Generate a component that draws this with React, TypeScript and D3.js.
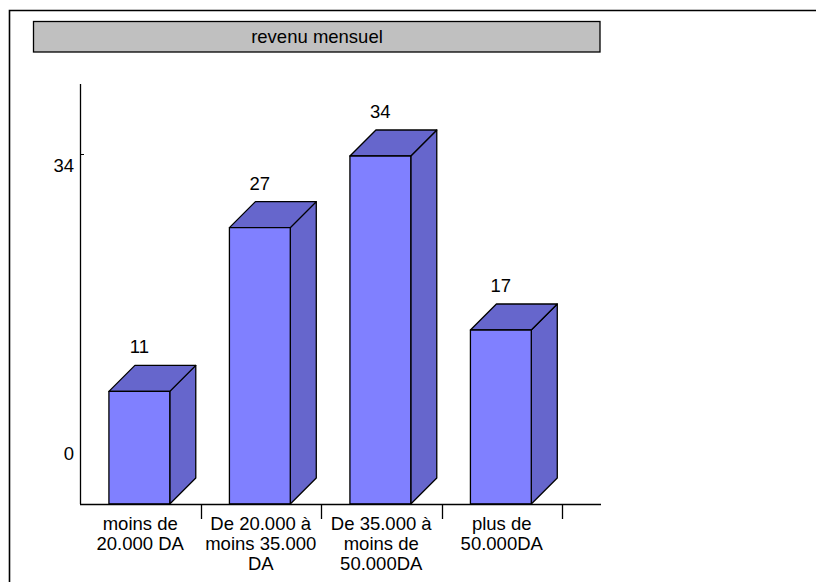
import React from "react";
import * as d3 from "d3";

const title = "revenu mensuel";
const categories = [
  ["moins de", "20.000 DA"],
  ["De 20.000 à", "moins 35.000", "DA"],
  ["De 35.000 à", "moins de", "50.000DA"],
  ["plus de", "50.000DA"],
];
const values = [11, 27, 34, 17];
const yTicks = [0, 34];

const W = 816;
const H = 582;
const FONT = "'Liberation Sans', Arial, sans-serif";
const FS = 18.5;
const FRONT = "#8080FF";
const SIDE = "#6666CC";
const DEPTH = 26;

export default function App() {
  const keys = categories.map((_, i) => String(i));
  const x = d3.scaleBand<string>().domain(keys).range([80, 562]).padding(0);
  const y = d3.scaleLinear().domain([0, 34]).range([504, 156]);
  const yLab = d3.scaleLinear().domain([0, 34]).range([453, 165]);
  const bw = x.bandwidth();
  const barOff = bw * 0.24;
  const barW = bw * 0.505;

  return (
    <svg
      width={W}
      height={H}
      style={{ position: "absolute", left: 0, top: 0, background: "#fff" }}
      fontFamily={FONT}
    >
      <rect x={0} y={0} width={W} height={H} fill="#fff" />
      {/* outer frame */}
      <path d={`M9.5,${H} V10.5 H${W}`} fill="none" stroke="#000" strokeWidth={1.6} />
      {/* title box */}
      <rect x={33.5} y={21.5} width={566.5} height={30.5} fill="#C0C0C0" stroke="#000" strokeWidth={1.3} />
      <text x={317} y={42.5} textAnchor="middle" fontSize={FS} fill="#000">
        {title}
      </text>

      {/* bars */}
      {values.map((v, i) => {
        const x0 = (x(String(i)) as number) + barOff;
        const x1 = x0 + barW;
        const yt = y(v);
        const yb = y(0);
        const d = DEPTH;
        return (
          <g key={i} stroke="#000" strokeWidth={1.3} strokeLinejoin="round">
            <path d={`M${x1},${yb} L${x1 + d},${yb - d} L${x1 + d},${yt - d} L${x1},${yt} Z`} fill={SIDE} />
            <path d={`M${x0},${yt} L${x0 + d},${yt - d} L${x1 + d},${yt - d} L${x1},${yt} Z`} fill={SIDE} />
            <rect x={x0} y={yt} width={barW} height={yb - yt} fill={FRONT} />
          </g>
        );
      })}

      {/* axes */}
      <line x1={80.5} y1={84} x2={80.5} y2={y(0)} stroke="#000" strokeWidth={1.3} />
      <line x1={80} y1={y(0) + 0.5} x2={601} y2={y(0) + 0.5} stroke="#000" strokeWidth={1.3} />
      {yTicks.filter((t) => t > 0).map((t) => (
        <line key={t} x1={80} y1={y(t) - 1.5} x2={84} y2={y(t) - 1.5} stroke="#000" strokeWidth={1} />
      ))}
      {yTicks.map((t) => (
        <text key={t} x={74} y={yLab(t) + 6.5} textAnchor="end" fontSize={FS} fill="#000">
          {t}
        </text>
      ))}
      {keys.slice(1).concat(["end"]).map((k, i) => {
        const tx = Math.round((x(String(i)) as number) + bw) + 0.5;
        return <line key={k} x1={tx} y1={y(0)} x2={tx} y2={y(0) + 15} stroke="#000" strokeWidth={1.3} />;
      })}

      {/* value labels */}
      {values.map((v, i) => (
        <text
          key={i}
          x={(x(String(i)) as number) + barOff + barW / 2}
          y={y(v) - 38}
          textAnchor="middle"
          fontSize={FS}
          fill="#000"
        >
          {v}
        </text>
      ))}

      {/* category labels */}
      {categories.map((lines, i) => (
        <text
          key={i}
          x={(x(String(i)) as number) + bw / 2}
          y={530}
          textAnchor="middle"
          fontSize={FS}
          fill="#000"
        >
          {lines.map((l, j) => (
            <tspan key={j} x={(x(String(i)) as number) + bw / 2} y={530 + j * 20}>
              {l}
            </tspan>
          ))}
        </text>
      ))}
    </svg>
  );
}
